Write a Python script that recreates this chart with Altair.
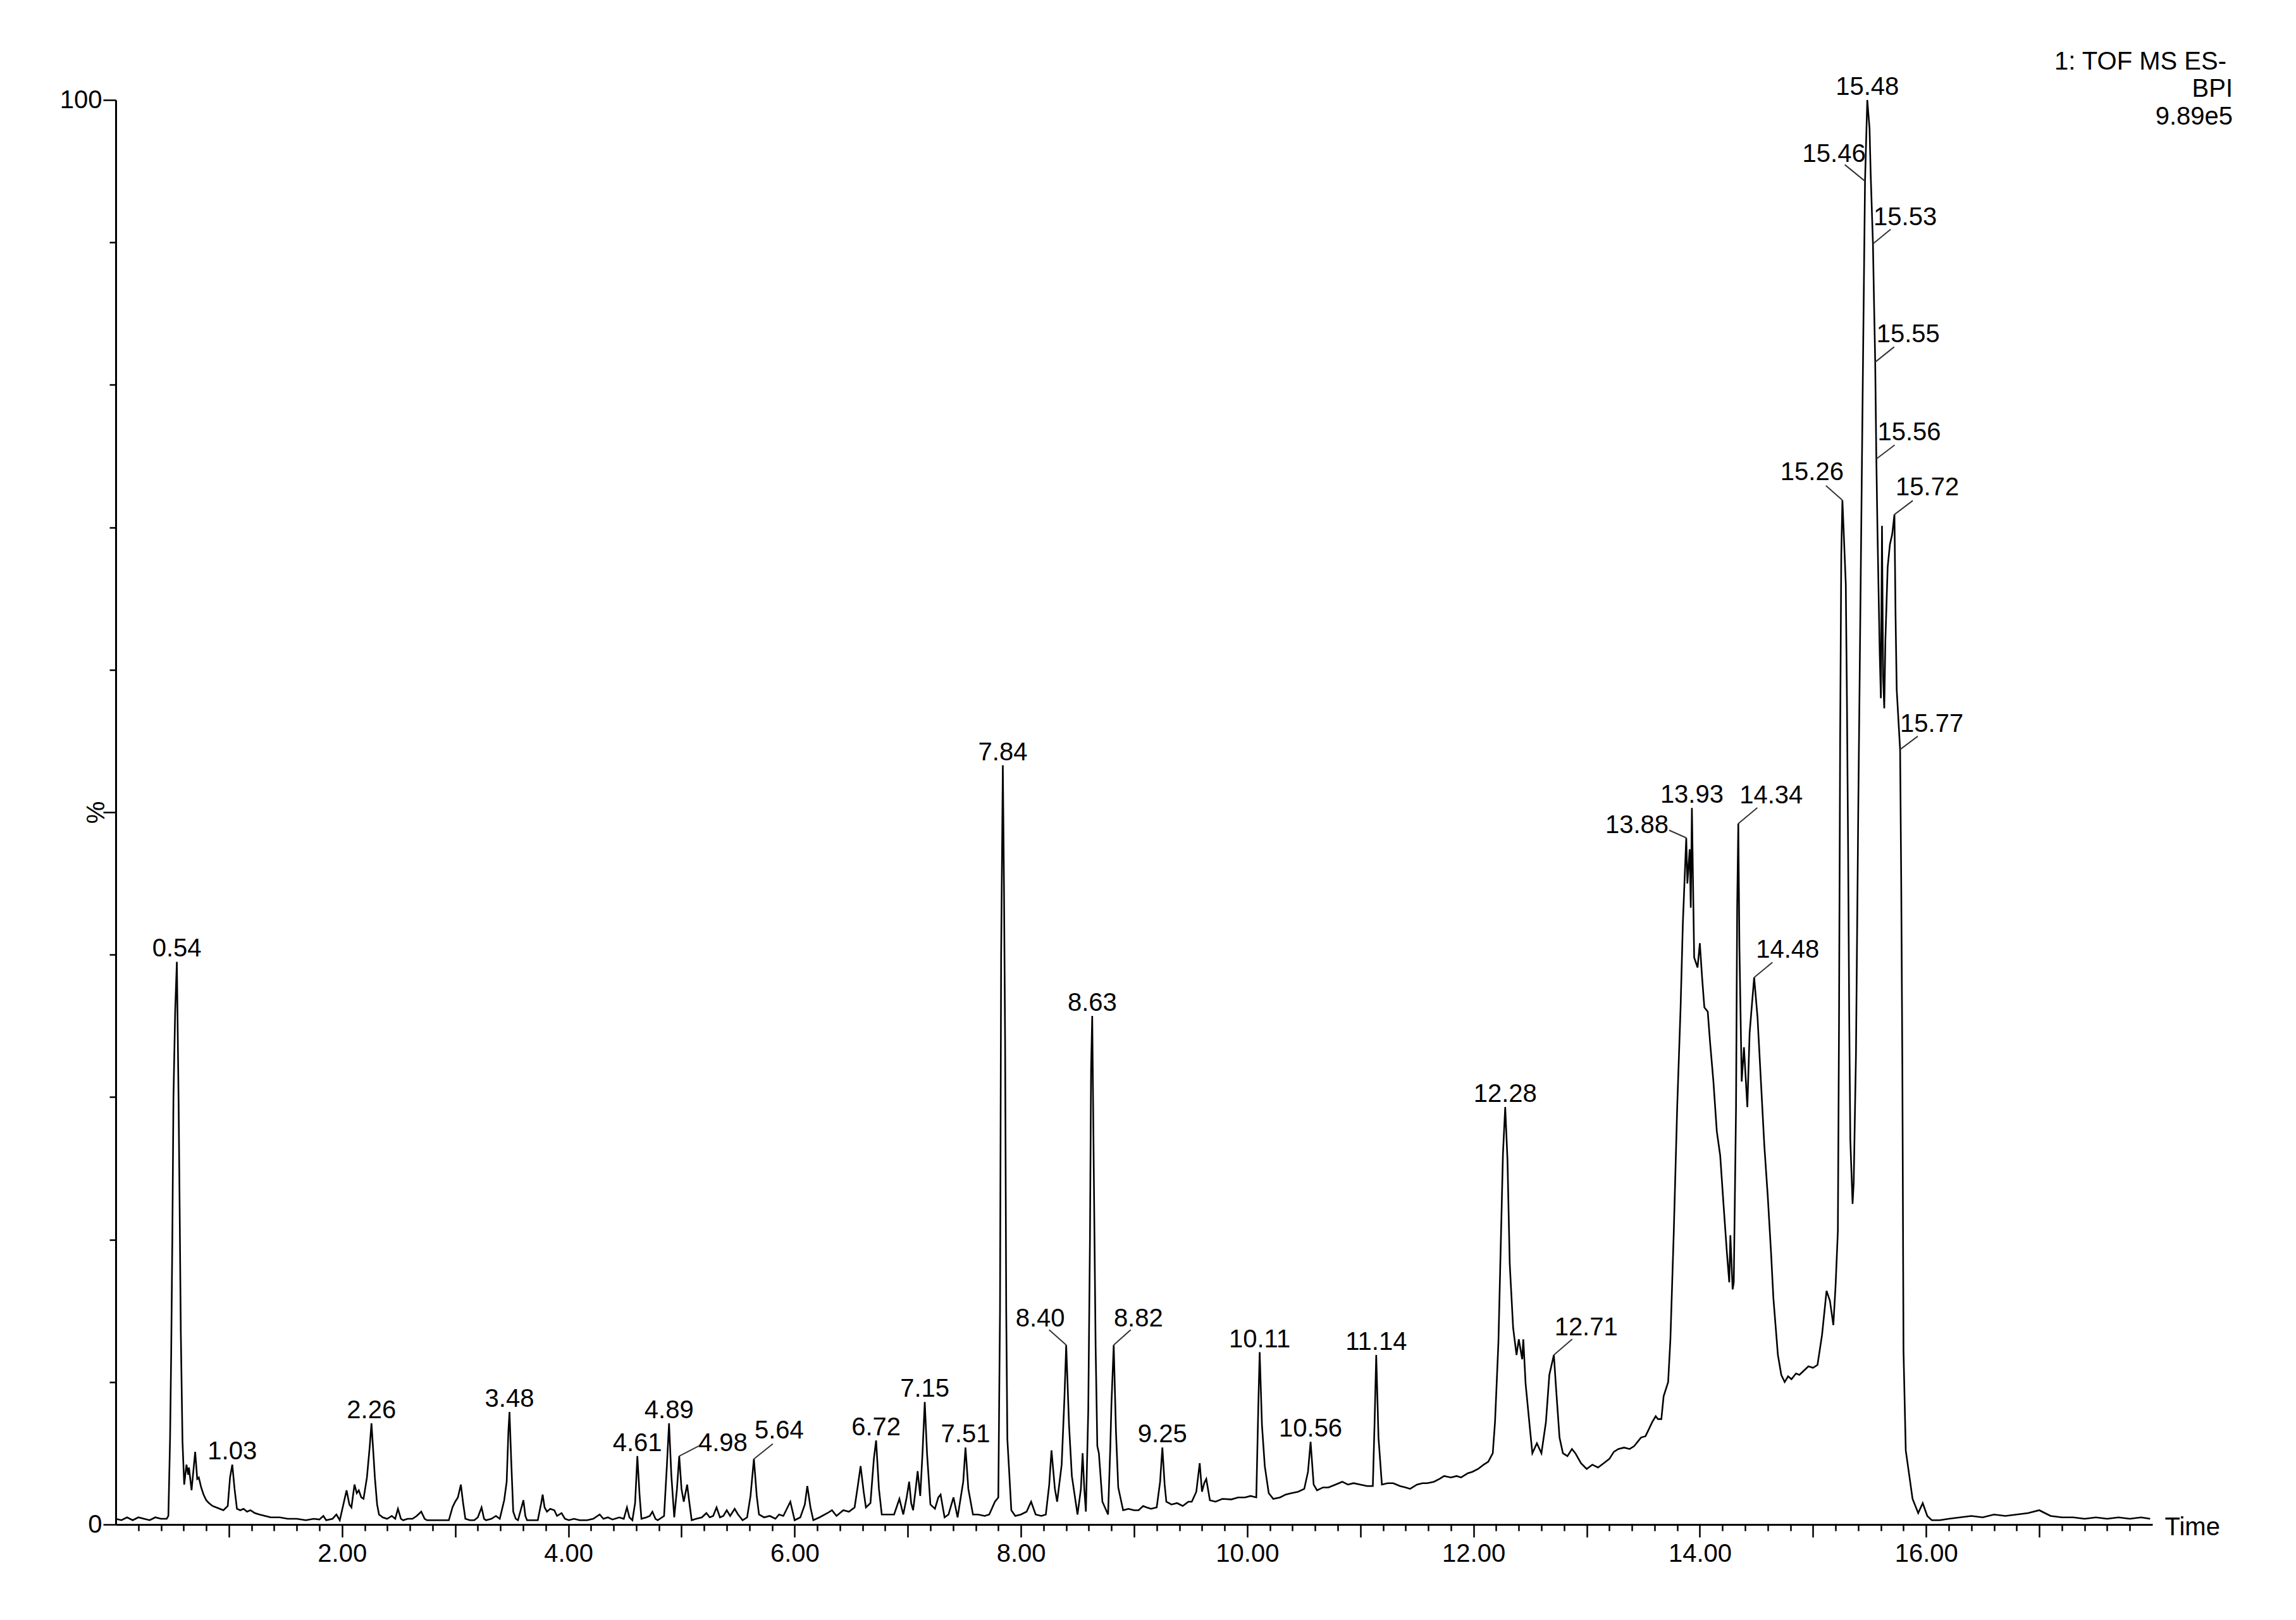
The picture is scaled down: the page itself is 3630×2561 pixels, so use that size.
import altair as alt
import pandas as pd

# ---------------- data ----------------
time_min = [
    0.00, 0.05, 0.10, 0.15, 0.20, 0.25, 0.30, 0.35, 0.40, 0.45, 0.465, 0.48, 0.49, 0.50, 0.51, 0.525, 0.54,
    0.555, 0.565, 0.575, 0.59, 0.605, 0.625, 0.64, 0.647, 0.67, 0.702, 0.72, 0.734, 0.755, 0.776, 0.80, 0.824,
    0.855, 0.888, 0.92, 0.952, 0.99, 1.01, 1.03, 1.05, 1.071, 1.10, 1.13, 1.16, 1.19, 1.23, 1.27, 1.32, 1.37,
    1.45, 1.52, 1.60, 1.68, 1.75, 1.80, 1.835, 1.86, 1.916, 1.95, 1.98, 2.00, 2.04, 2.065, 2.083, 2.11, 2.13,
    2.148, 2.17, 2.19, 2.22, 2.245, 2.26, 2.28, 2.29, 2.31, 2.327, 2.36, 2.398, 2.44, 2.47, 2.494, 2.52, 2.54,
    2.58, 2.622, 2.66, 2.70, 2.73, 2.751, 2.80, 2.85, 2.90, 2.944, 2.976, 3.00, 3.024, 3.05, 3.07, 3.09, 3.13,
    3.169, 3.20, 3.233, 3.255, 3.272, 3.32, 3.36, 3.394, 3.433, 3.455, 3.47, 3.48, 3.495, 3.513, 3.535, 3.555,
    3.603, 3.62, 3.635, 3.68, 3.73, 3.76, 3.773, 3.79, 3.811, 3.84, 3.876, 3.90, 3.94, 3.97, 4.004, 4.05, 4.10,
    4.165, 4.22, 4.277, 4.31, 4.35, 4.39, 4.45, 4.49, 4.518, 4.54, 4.566, 4.59, 4.61, 4.63, 4.646, 4.69, 4.72,
    4.743, 4.77, 4.79, 4.846, 4.87, 4.89, 4.91, 4.936, 4.96, 4.98, 5.00, 5.02, 5.05, 5.07, 5.09, 5.13, 5.18,
    5.22, 5.25, 5.28, 5.31, 5.34, 5.37, 5.40, 5.43, 5.47, 5.50, 5.54, 5.58, 5.61, 5.64, 5.665, 5.685, 5.73,
    5.78, 5.83, 5.862, 5.90, 5.962, 6.00, 6.05, 6.09, 6.112, 6.14, 6.165, 6.22, 6.29, 6.33, 6.37, 6.43, 6.48,
    6.53, 6.56, 6.583, 6.61, 6.63, 6.67, 6.70, 6.72, 6.745, 6.77, 6.82, 6.879, 6.926, 6.96, 6.99, 7.012, 7.03,
    7.047, 7.07, 7.087, 7.11, 7.13, 7.15, 7.17, 7.20, 7.24, 7.27, 7.29, 7.325, 7.36, 7.404, 7.44, 7.49, 7.51,
    7.535, 7.576, 7.62, 7.68, 7.72, 7.77, 7.80, 7.815, 7.825, 7.84, 7.85, 7.86, 7.87, 7.88, 7.915, 7.95, 8.00,
    8.05, 8.09, 8.13, 8.18, 8.22, 8.25, 8.27, 8.30, 8.32, 8.36, 8.385, 8.40, 8.425, 8.45, 8.50, 8.53, 8.545,
    8.56, 8.574, 8.595, 8.61, 8.62, 8.63, 8.645, 8.66, 8.675, 8.689, 8.72, 8.77, 8.79, 8.80, 8.82, 8.84, 8.86,
    8.903, 8.95, 9.00, 9.04, 9.08, 9.11, 9.15, 9.20, 9.23, 9.25, 9.27, 9.285, 9.33, 9.38, 9.43, 9.48, 9.51,
    9.55, 9.58, 9.60, 9.62, 9.638, 9.67, 9.72, 9.78, 9.86, 9.92, 9.98, 10.03, 10.08, 10.10, 10.11, 10.13,
    10.155, 10.19, 10.23, 10.29, 10.34, 10.39, 10.45, 10.504, 10.537, 10.56, 10.587, 10.617, 10.67, 10.717,
    10.78, 10.84, 10.89, 10.94, 11.00, 11.06, 11.11, 11.125, 11.14, 11.16, 11.19, 11.24, 11.29, 11.35, 11.40,
    11.44, 11.50, 11.55, 11.59, 11.65, 11.70, 11.74, 11.80, 11.85, 11.89, 11.95, 11.99, 12.04, 12.09, 12.13,
    12.17, 12.19, 12.22, 12.24, 12.26, 12.28, 12.30, 12.32, 12.35, 12.38, 12.40, 12.43, 12.44, 12.46, 12.50,
    12.52, 12.56, 12.60, 12.64, 12.67, 12.71, 12.73, 12.76, 12.79, 12.83, 12.87, 12.90, 12.95, 13.00, 13.05,
    13.10, 13.15, 13.20, 13.24, 13.28, 13.33, 13.38, 13.42, 13.48, 13.52, 13.58, 13.61, 13.63, 13.66, 13.68,
    13.70, 13.72, 13.74, 13.77, 13.80, 13.83, 13.85, 13.88, 13.89, 13.91, 13.92, 13.93, 13.95, 13.98, 14.00,
    14.02, 14.04, 14.07, 14.09, 14.12, 14.15, 14.18, 14.21, 14.24, 14.26, 14.27, 14.29, 14.30, 14.32, 14.33,
    14.34, 14.35, 14.37, 14.39, 14.42, 14.44, 14.48, 14.51, 14.54, 14.57, 14.60, 14.63, 14.65, 14.69, 14.72,
    14.75, 14.78, 14.81, 14.85, 14.88, 14.92, 14.96, 15.00, 15.04, 15.08, 15.12, 15.15, 15.18, 15.20, 15.22,
    15.23, 15.24, 15.25, 15.26, 15.27, 15.29, 15.30, 15.31, 15.32, 15.33, 15.35, 15.36, 15.38, 15.40, 15.42,
    15.44, 15.46, 15.48, 15.50, 15.51, 15.53, 15.54, 15.55, 15.56, 15.57, 15.58, 15.59, 15.60, 15.61, 15.62,
    15.63, 15.64, 15.66, 15.68, 15.70, 15.72, 15.73, 15.74, 15.77, 15.78, 15.79, 15.80, 15.82, 15.85, 15.88,
    15.93, 15.97, 16.01, 16.05, 16.12, 16.20, 16.30, 16.40, 16.50, 16.60, 16.70, 16.80, 16.90, 17.00, 17.05,
    17.10, 17.20, 17.30, 17.40, 17.50, 17.60, 17.70, 17.80, 17.90, 17.98,
]

intensity_pct = [
    0.4, 0.3, 0.5, 0.3, 0.5, 0.4, 0.3, 0.5, 0.4, 0.4, 0.6, 6.0, 12.0, 20.0, 30.0, 36.0, 39.5,
    30.0, 22.0, 13.5, 5.8, 2.8, 4.2, 3.5, 4.0, 2.4, 5.1, 3.2, 3.3, 2.6, 2.1, 1.7, 1.5,
    1.3, 1.2, 1.1, 1.0, 1.3, 3.3, 4.2, 2.5, 1.1, 1.0, 1.1, 0.9, 1.0, 0.8, 0.7, 0.6, 0.5,
    0.5, 0.4, 0.4, 0.3, 0.4, 0.35, 0.6, 0.3, 0.4, 0.7, 0.3, 1.0, 2.4, 1.4, 1.2, 2.8, 2.2,
    2.4, 1.9, 1.8, 3.3, 5.5, 7.1, 4.6, 3.3, 1.4, 0.7, 0.5, 0.4, 0.6, 0.4, 1.1, 0.4, 0.3,
    0.4, 0.4, 0.6, 0.9, 0.4, 0.3, 0.3, 0.3, 0.3, 0.3, 1.2, 1.6, 1.9, 2.8, 1.5, 0.4, 0.3,
    0.3, 0.5, 1.2, 0.4, 0.3, 0.4, 0.6, 0.4, 1.7, 3.0, 6.5, 7.9, 4.5, 0.9, 0.4, 0.3,
    1.7, 0.6, 0.3, 0.3, 0.3, 1.5, 2.1, 1.2, 0.9, 1.1, 1.0, 0.6, 0.8, 0.4, 0.3, 0.4, 0.3,
    0.3, 0.4, 0.7, 0.4, 0.5, 0.35, 0.5, 0.4, 1.2, 0.5, 0.3, 1.5, 4.8, 2.0, 0.4, 0.5, 0.6,
    0.9, 0.4, 0.3, 0.6, 4.0, 7.1, 3.5, 0.5, 2.5, 4.8, 2.5, 1.6, 2.8, 1.5, 0.3, 0.4, 0.5,
    0.8, 0.5, 0.6, 1.2, 0.5, 0.6, 1.0, 0.6, 1.1, 0.7, 0.3, 0.5, 2.0, 4.6, 2.0, 0.7, 0.5,
    0.6, 0.4, 0.7, 0.6, 1.6, 0.3, 0.5, 1.4, 2.7, 1.2, 0.3, 0.5, 0.8, 1.0, 0.6, 1.0, 0.9,
    1.2, 2.8, 4.1, 2.3, 1.2, 1.5, 4.6, 5.9, 2.5, 0.7, 0.7, 0.7, 1.8, 0.7, 1.9, 3.0, 1.5,
    1.0, 2.5, 3.75, 2.0, 5.0, 8.6, 5.0, 1.4, 1.1, 1.9, 2.1, 0.5, 0.7, 1.9, 0.5, 3.0, 5.4,
    2.5, 0.7, 0.7, 0.6, 0.7, 1.6, 1.9, 15.0, 40.0, 53.3, 45.0, 34.0, 15.0, 6.0, 1.0, 0.6, 0.7,
    0.9, 1.6, 0.7, 0.6, 0.7, 2.8, 5.2, 2.5, 1.6, 4.2, 9.0, 12.6, 7.0, 3.4, 0.7, 2.5, 5.0,
    2.5, 0.9, 8.0, 20.0, 32.0, 35.7, 24.0, 12.5, 5.5, 5.0, 1.6, 0.7, 5.5, 8.5, 12.6, 6.5, 2.6,
    1.0, 1.1, 1.0, 1.0, 1.3, 1.2, 1.1, 1.2, 3.0, 5.4, 2.8, 1.6, 1.4, 1.5, 1.3, 1.6, 1.6,
    2.3, 4.3, 2.3, 2.9, 3.2, 1.7, 1.6, 1.8, 1.76, 1.9, 1.9, 2.0, 1.9, 9.0, 12.1, 7.0,
    4.1, 2.2, 1.8, 1.9, 2.1, 2.2, 2.3, 2.5, 3.7, 5.8, 2.8, 2.4, 2.6, 2.6,
    2.8, 3.0, 2.8, 2.9, 2.8, 2.7, 2.7, 7.0, 11.9, 6.1, 2.8, 2.9, 2.9, 2.7, 2.6,
    2.5, 2.8, 2.9, 2.9, 3.0, 3.2, 3.4, 3.3, 3.4, 3.3, 3.6, 3.7, 3.9, 4.2, 4.4,
    5.0, 7.2, 12.8, 19.4, 26.0, 29.3, 25.6, 18.3, 13.8, 11.9, 13.0, 11.6, 13.0, 9.9, 6.6,
    5.0, 5.7, 5.0, 7.2, 10.5, 11.9, 9.5, 6.1, 5.0, 4.8, 5.3, 5.0, 4.3, 3.9, 4.2,
    4.0, 4.3, 4.6, 5.1, 5.3, 5.4, 5.3, 5.5, 6.1, 6.2, 7.2, 7.6, 7.4, 7.4, 9.0,
    9.5, 10.0, 13.0, 20.6, 29.3, 36.3, 42.2, 48.2, 45.0, 47.4, 43.3, 50.3, 39.8, 39.1, 40.8,
    38.4, 36.3, 36.0, 33.9, 31.1, 27.6, 25.9, 22.4, 19.0, 17.0, 20.3, 16.5, 17.0, 29.3, 43.3,
    49.2, 40.5, 31.1, 33.5, 29.3, 34.5, 38.4, 35.6, 31.1, 26.6, 23.1, 19.0, 15.9, 11.9, 10.5,
    10.0, 10.4, 10.2, 10.6, 10.5, 10.8, 11.1, 11.0, 11.2, 13.3, 16.4, 15.7, 14.0, 16.8, 20.6,
    35.0, 55.0, 68.0, 71.9, 70.0, 66.0, 58.0, 48.0, 36.0, 27.0, 22.5, 24.0, 33.0, 50.0, 65.0,
    80.0, 94.3, 100.0, 98.0, 94.8, 89.9, 85.6, 81.6, 74.8, 69.8, 65.4, 61.1, 58.0, 70.1, 59.4,
    57.3, 62.1, 67.2, 68.8, 69.5, 70.9, 63.7, 58.6, 54.4, 45.0, 32.1, 12.2, 5.2, 3.5, 1.8,
    0.8, 1.5, 0.6, 0.3, 0.3, 0.4, 0.5, 0.6, 0.5, 0.7, 0.6, 0.7, 0.8, 1.0, 0.8,
    0.6, 0.5, 0.5, 0.4, 0.5, 0.4, 0.5, 0.4, 0.5, 0.4,
]

peak_labels = ["0.54", "1.03", "2.26", "3.48", "4.61", "4.89", "4.98", "5.64", "6.72", "7.15",
               "7.51", "7.84", "8.40", "8.63", "8.82", "9.25", "10.11", "10.56", "11.14", "12.28",
               "12.71", "13.88", "13.93", "14.34", "14.48", "15.26", "15.46", "15.48", "15.53",
               "15.55", "15.56", "15.72", "15.77"]
peak_values = [39.5, 4.2, 7.1, 7.9, 4.8, 7.1, 4.8, 4.6, 5.9, 8.6,
               5.4, 53.3, 12.6, 35.7, 12.6, 5.4, 12.1, 5.8, 11.9, 29.3,
               11.9, 48.2, 50.3, 49.2, 38.4, 71.9, 94.3, 100.0, 89.9,
               81.6, 74.8, 70.9, 54.4]

header_lines = ["1: TOF MS ES-", "BPI", "9.89e5"]
x_title = "Time"
y_title = "%"

# ---------------- layout (pixels) ----------------
W, H = 3220, 2252
PX_MIN = W / 18.0
PX_PCT = H / 100.0
FONT = "Liberation Sans"
FS = 40

# label text-centre offsets and leader-line end offsets from each peak point, in pixels
C = (0, -20)
text_off = [C, C, C, C, C, C, (69, -20), (40, -44), C, C,
            C, C, (-41, -41), C, (39, -41), C, C, C, C, C,
            (51, -43), (-78, -20), C, (52, -44), (53, -43), (-48, -44), (-49, -42), C, (51, -41),
            (52, -43), (52, -42), (52, -42), (50, -40)]
leader_off = [None] * 6 + [(31, -16), (30, -24)] + [None] * 4 + [(-27, -24), None, (27, -24)] + [None] * 5 + \
             [(29, -25), (-27, -12), None, (30, -25), (29, -24), (-26, -23), (-32, -26), None, (28, -23),
              (30, -24), (29, -22), (29, -22), (28, -21)]

trace = pd.DataFrame({"t": time_min, "v": intensity_pct})

lab = pd.DataFrame({"label": peak_labels, "t": [float(s) for s in peak_labels], "v": peak_values})
lab["t"] = lab["t"] + [o[0] / PX_MIN for o in text_off]
lab["v"] = lab["v"] - pd.Series([o[1] / PX_PCT for o in text_off])

lead_rows = []
for s, vv, o in zip(peak_labels, peak_values, leader_off):
    if o is not None:
        tt = float(s)
        lead_rows.append({"t": tt, "v": vv, "t2": tt + o[0] / PX_MIN, "v2": vv - o[1] / PX_PCT})
leaders = pd.DataFrame(lead_rows)

xscale = alt.Scale(domain=[0, 18], nice=False, zero=False)
yscale = alt.Scale(domain=[0, 100], nice=False, zero=False)

x_ticks = [round(0.2 * i, 1) for i in range(1, 90)]
y_ticks = list(range(0, 101, 10))

x_axis = alt.Axis(
    values=x_ticks, grid=False, labelOverlap=False, labelFlush=False, labelBound=False,
    labelExpr="abs(datum.value/2 - round(datum.value/2)) < 0.001 ? format(datum.value, '.2f') : ''",
    labelFont=FONT, labelFontSize=FS, labelColor="black", labelPadding=6, labelBaseline="top",
    tickSize={"condition": {"test": "abs(datum.value - round(datum.value)) < 0.001", "value": 20}, "value": 10},
    tickColor="black", tickWidth=2.5, domainColor="black", domainWidth=3,
    title=x_title, titleX=3239, titleY=4, titleAlign="left", titleBaseline="middle", titleAngle=0,
    titleFont=FONT, titleFontSize=FS, titleFontWeight="normal", titleColor="black",
)
y_axis = alt.Axis(
    values=y_ticks, grid=False, labelOverlap=False, labelFlush=False,
    labelExpr="datum.value == 0 || datum.value == 100 ? datum.label : ''",
    labelFont=FONT, labelFontSize=FS, labelColor="black", labelPadding=2, labelBaseline="middle",
    tickSize={"condition": {"test": "datum.value % 50 == 0", "value": 20}, "value": 10},
    tickColor="black", tickWidth=2.5, domainColor="black", domainWidth=3,
    title=y_title, titleX=-31, titleY=1126, titleAngle=270, titleAlign="center", titleBaseline="middle",
    titleFont=FONT, titleFontSize=FS, titleFontWeight="normal", titleColor="black",
)

X = alt.X("t:Q", scale=xscale, axis=x_axis)
Y = alt.Y("v:Q", scale=yscale, axis=y_axis)

line = alt.Chart(trace).mark_line(color="black", strokeWidth=2.6, strokeJoin="miter").encode(x=X, y=Y)

leader_layer = alt.Chart(leaders).mark_rule(color="#333333", strokeWidth=2).encode(
    x=X, y=Y, x2="t2:Q", y2="v2:Q",
)

label_layer = alt.Chart(lab).mark_text(font=FONT, fontSize=FS, color="black", align="center",
                                        baseline="middle").encode(
    x=X, y=Y, text="label:N",
)

one = pd.DataFrame({"k": [0]})
header_layers = []
for txt, xr, yb in zip(header_lines, [3337, 3347, 3347], [-48, -5, 39]):
    header_layers.append(
        alt.Chart(one).mark_text(font=FONT, fontSize=FS, color="black", align="right",
                                 baseline="alphabetic", text=txt).encode(
            x=alt.value(xr), y=alt.value(yb)
        )
    )

chart = alt.layer(line, leader_layer, label_layer, *header_layers).properties(
    width=W, height=H,
    autosize=alt.AutoSizeParams(type="none"),
    padding={"left": 175, "top": 150, "right": 219, "bottom": 143},
    background="white",
).configure_view(strokeWidth=0)

chart.save("out.html", embed_options={"renderer": "svg", "actions": False})
